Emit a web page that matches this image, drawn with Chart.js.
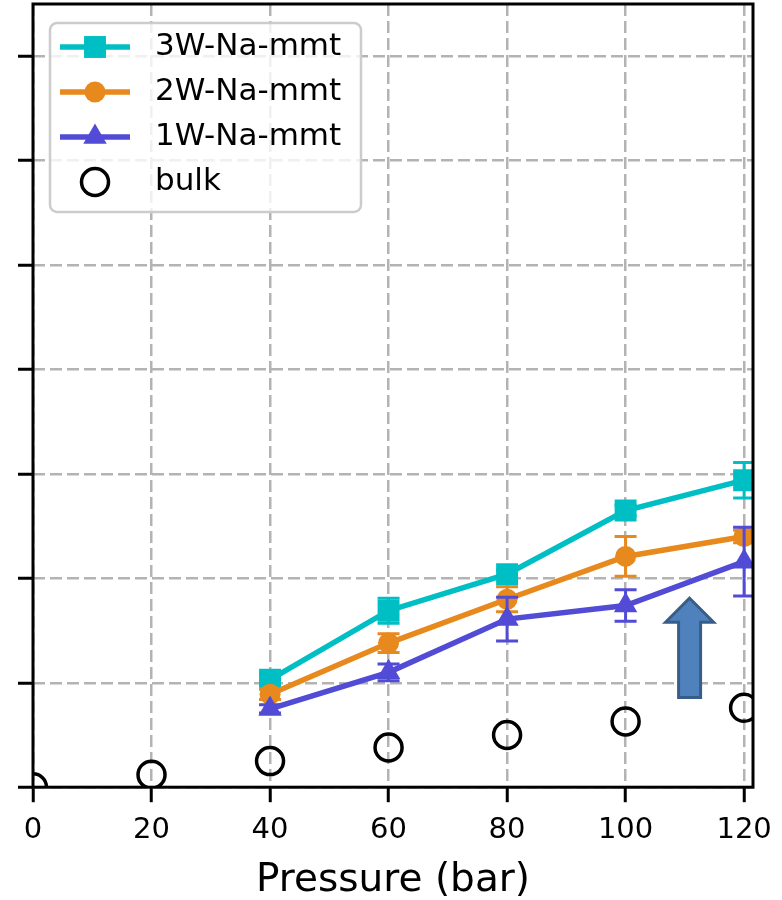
<!DOCTYPE html>
<html>
<head>
<meta charset="utf-8">
<script src="https://cdn.jsdelivr.net/npm/chart.js@4.4.1/dist/chart.umd.min.js"></script>
<style>
html, body { margin: 0; padding: 0; background: #fff; }
</style>
</head>
<body>
<canvas id="chart" width="782" height="900"></canvas>
<script>
const pressure_bulk = [0, 20, 40, 60, 80, 100, 120];
const pressure_clay = [40, 60, 80, 100, 120];
const series_names = ['3W-Na-mmt', '2W-Na-mmt', '1W-Na-mmt', 'bulk'];
const values_3w = [1.03, 1.69, 2.04, 2.65, 2.94];
const errors_3w = [0.05, 0.12, 0.04, 0.05, 0.17];
const values_2w = [0.89, 1.38, 1.80, 2.21, 2.40];
const errors_2w = [0.05, 0.09, 0.12, 0.19, 0.06];
const values_1w = [0.75, 1.10, 1.61, 1.74, 2.16];
const errors_1w = [0.04, 0.08, 0.21, 0.15, 0.33];
const values_bulk = [0.00, 0.12, 0.25, 0.38, 0.50, 0.63, 0.76];
const x_ticks = [0, 20, 40, 60, 80, 100, 120];
const y_ticks = [0, 1, 2, 3, 4, 5, 6, 7];

// the blue arrow pasted on the figure (data coords of tail and tip)
const arrow_at = { x: 110.8, from: 0.86, to: 1.81 };

const font_family = '"DejaVu Sans", sans-serif';
const colors = ['#00bfc4', '#e8891e', '#514bd6', '#000000'];

function points(xs, ys) {
    return xs.map((x, i) => ({ x: x, y: ys[i] }));
}

function clayDataset(i, ys, errs, style, radius) {
    return {
        label: series_names[i],
        data: points(pressure_clay, ys),
        errors: errs,
        borderColor: colors[i],
        backgroundColor: colors[i],
        borderWidth: 5.5,
        pointStyle: style,
        pointRadius: radius,
        pointBackgroundColor: colors[i],
        pointBorderColor: colors[i],
        pointBorderWidth: 0,
        tension: 0,
        fill: false,
        clip: 0,
        order: 3 - i
    };
}

const errorBars = {
    id: 'errorBars',
    beforeDatasetDraw(chart, args) {
        const ds = chart.data.datasets[args.index];
        if (!ds.errors) return;
        const { ctx, chartArea } = chart;
        const x = chart.scales.x, y = chart.scales.y;
        ctx.save();
        ctx.beginPath();
        ctx.rect(chartArea.left, chartArea.top, chartArea.width, chartArea.height);
        ctx.clip();
        ctx.strokeStyle = ds.borderColor;
        ctx.lineWidth = 3;
        ds.data.forEach((p, i) => {
            const px = x.getPixelForValue(p.x);
            const top = y.getPixelForValue(p.y + ds.errors[i]);
            const bot = y.getPixelForValue(p.y - ds.errors[i]);
            ctx.beginPath();
            ctx.moveTo(px, top); ctx.lineTo(px, bot);
            ctx.moveTo(px - 11, top); ctx.lineTo(px + 11, top);
            ctx.moveTo(px - 11, bot); ctx.lineTo(px + 11, bot);
            ctx.stroke();
        });
        ctx.restore();
    }
};

const frameAndArrow = {
    id: 'frameAndArrow',
    afterDatasetsDraw(chart) {
        const { ctx, chartArea } = chart;
        const x = chart.scales.x, y = chart.scales.y;
        // arrow
        const cx = x.getPixelForValue(arrow_at.x);
        const tail = y.getPixelForValue(arrow_at.from);
        const tip = y.getPixelForValue(arrow_at.to);
        const body = 11, head = 24, headLen = 24;
        ctx.save();
        ctx.beginPath();
        ctx.moveTo(cx, tip);
        ctx.lineTo(cx + head, tip + headLen);
        ctx.lineTo(cx + body, tip + headLen);
        ctx.lineTo(cx + body, tail);
        ctx.lineTo(cx - body, tail);
        ctx.lineTo(cx - body, tip + headLen);
        ctx.lineTo(cx - head, tip + headLen);
        ctx.closePath();
        ctx.fillStyle = '#4f81bd';
        ctx.fill();
        ctx.strokeStyle = '#385d8a';
        ctx.lineWidth = 3;
        ctx.stroke();
        // axes frame
        ctx.strokeStyle = '#000';
        ctx.lineWidth = 3;
        ctx.strokeRect(chartArea.left, chartArea.top, chartArea.width, chartArea.height);
        ctx.restore();
    }
};

const boxLegend = {
    id: 'boxLegend',
    afterDraw(chart) {
        const ctx = chart.ctx;
        ctx.save();
        ctx.beginPath();
        ctx.roundRect(50, 23, 311, 189, 7);
        ctx.fillStyle = 'rgba(255,255,255,0.8)';
        ctx.fill();
        ctx.strokeStyle = '#cccccc';
        ctx.lineWidth = 2.5;
        ctx.stroke();
        chart.data.datasets.forEach((ds, i) => {
            const cy = 47 + i * 45;
            if (ds.showLine !== false) {
                ctx.beginPath();
                ctx.moveTo(60, cy);
                ctx.lineTo(130, cy);
                ctx.strokeStyle = ds.borderColor;
                ctx.lineWidth = 5.5;
                ctx.stroke();
            }
            ctx.fillStyle = ds.pointBackgroundColor;
            ctx.strokeStyle = ds.pointBorderColor;
            ctx.lineWidth = ds.pointBorderWidth;
            Chart.helpers.drawPoint(ctx, {
                pointStyle: ds.pointStyle,
                radius: ds.pointRadius,
                borderWidth: ds.pointBorderWidth,
                rotation: 0
            }, 95, cy);
            ctx.fillStyle = '#000';
            ctx.font = '31px ' + font_family;
            ctx.textBaseline = 'middle';
            ctx.textAlign = 'left';
            ctx.fillText(ds.label, 155, cy);
        });
        ctx.restore();
    }
};

const gridStyle = {
    color: '#b3b3b3',
    lineWidth: 2.5,
    tickColor: '#000',
    tickWidth: 3,
    tickBorderDash: [],
    drawTicks: true
};

new Chart(document.getElementById('chart'), {
    type: 'line',
    data: {
        datasets: [
            clayDataset(0, values_3w, errors_3w, 'rect', 15.5),
            clayDataset(1, values_2w, errors_2w, 'circle', 10.5),
            clayDataset(2, values_1w, errors_1w, 'triangle', 13.5),
            {
                label: series_names[3],
                data: points(pressure_bulk, values_bulk),
                showLine: false,
                borderColor: '#000',
                pointStyle: 'circle',
                pointRadius: 13.5,
                pointBackgroundColor: 'rgba(0,0,0,0)',
                pointBorderColor: '#000',
                pointBorderWidth: 3.5,
                clip: 0,
                order: 4
            }
        ]
    },
    options: {
        responsive: false,
        animation: false,
        events: [],
        layout: { autoPadding: false, padding: { left: 18, top: 4, right: 29, bottom: 0 } },
        plugins: {
            legend: { display: false },
            tooltip: { enabled: false }
        },
        scales: {
            x: {
                type: 'linear',
                min: 0,
                max: 121.5,
                afterBuildTicks: axis => { axis.ticks = x_ticks.map(v => ({ value: v })); },
                // the last label may run past the frame, as in the original
                afterFit: axis => { axis.paddingRight = 0; axis.paddingLeft = 0; },
                grid: Object.assign({}, gridStyle, { tickLength: 15 }),
                border: { display: false, dash: [12, 5] },
                ticks: {
                    color: '#000',
                    font: { family: font_family, size: 29 },
                    padding: 11,
                    maxRotation: 0,
                    autoSkip: false
                },
                title: {
                    display: true,
                    text: 'Pressure (bar)',
                    color: '#000',
                    font: { family: font_family, size: 39, lineHeight: 1 },
                    padding: { top: 2, bottom: 0 }
                }
            },
            y: {
                type: 'linear',
                min: 0,
                max: 7.5,
                afterBuildTicks: axis => { axis.ticks = y_ticks.map(v => ({ value: v })); },
                grid: Object.assign({}, gridStyle, { tickLength: 15 }),
                border: { display: false, dash: [12, 5] },
                ticks: { display: false }
            }
        }
    },
    plugins: [errorBars, frameAndArrow, boxLegend]
});
</script>
</body>
</html>
